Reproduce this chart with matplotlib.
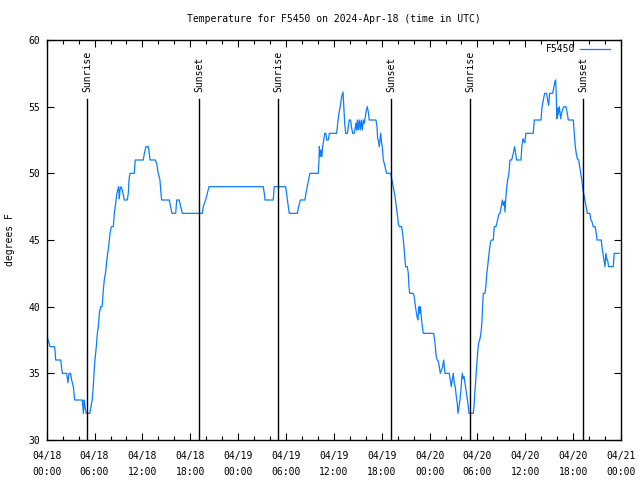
import matplotlib
matplotlib.use('Agg')
import matplotlib.pyplot as plt
import matplotlib.dates as mdates
import matplotlib.transforms as mtransforms
import pandas as pd

# hours since 2024-04-18 00:00 UTC and temperature in F
hours = [0, 0.16, 0.29, 0.41, 1.0, 1.13, 1.75, 1.96, 2.5, 2.67, 2.8, 3.0, 3.13, 3.34, 3.51,
         4.46, 4.55, 4.6, 4.7, 4.8, 4.95, 5.4, 5.55, 5.7, 5.84, 5.93, 6.05, 6.22, 6.35, 6.47,
         6.6, 6.77, 6.95, 7.1, 7.22, 7.39, 7.52, 7.65, 7.81, 7.94, 8.1, 8.35, 8.48, 8.65, 8.77,
         8.9, 9.02, 9.1, 9.19, 9.31, 9.48, 9.6, 9.73, 10.1, 10.23, 10.32, 10.44, 10.98, 11.1,
         12.11, 12.24, 12.45, 12.74, 12.86, 12.95, 13.61, 13.79, 13.95, 14.2, 14.33, 14.41,
         15.37, 15.54, 15.7, 16.17, 16.3, 16.62, 16.8, 17.0, 19.5, 19.63, 19.93, 20.18, 20.35,
         27.15, 27.28, 27.37, 28.4, 28.53, 29.96, 30.12, 30.29, 30.41, 31.42, 31.63, 31.8,
         32.38, 32.5, 32.67, 32.84, 33.0, 34.05, 34.14, 34.18, 34.3, 34.4, 34.5, 34.6, 34.76,
         34.85, 35.0, 35.1, 35.3, 35.43, 36.35, 36.48, 36.64, 36.8, 36.98, 37.1, 37.15, 37.23,
         37.36, 37.48, 37.7, 37.81, 37.93, 38.1, 38.2, 38.36, 38.55, 38.69, 38.77, 38.85,
         38.94, 39.05, 39.19, 39.3, 39.44, 39.57, 39.69, 39.82, 39.94, 40.07, 40.19, 40.32,
         40.44, 41.28, 41.41, 41.49, 41.57, 41.7, 41.78, 41.87, 42.0, 42.07, 42.2, 42.32,
         42.45, 42.62, 43.12, 43.25, 43.45, 43.66, 43.87, 44.0, 44.08, 44.2, 44.5, 44.67,
         44.79, 44.92, 45.0, 45.2, 45.33, 45.42, 45.5, 45.96, 46.08, 46.17, 46.3, 46.42,
         46.55, 46.67, 46.75, 46.84, 46.96, 47.09, 47.21, 48.51, 48.64, 48.72, 48.84, 48.97,
         49.1, 49.22, 49.34, 49.5, 49.64, 49.77, 49.85, 49.93, 50.47, 50.59, 50.72, 50.85,
         50.97, 51.1, 51.22, 51.35, 51.47, 51.56, 51.69, 51.81, 51.93, 52.02, 52.1, 52.22,
         52.32, 52.44, 52.56, 52.69, 52.81, 52.94, 53.48, 53.57, 53.65, 53.78, 53.9, 54.03,
         54.15, 54.32, 54.44, 54.57, 54.65, 54.74, 54.95, 55.07, 55.16, 55.28, 55.41, 55.53,
         55.66, 55.78, 55.99, 56.11, 56.32, 56.49, 56.66, 56.83, 56.99, 57.12, 57.24, 57.37,
         57.45, 57.54, 57.66, 57.79, 57.95, 58.08, 58.29, 58.5, 58.66, 58.79, 58.92, 59.46,
         59.58, 59.71, 59.83, 59.95, 60.08, 61.0, 61.13, 61.97, 62.09, 62.26, 62.43, 62.68,
         62.8, 62.93, 63.05, 63.43, 63.6, 63.72, 63.8, 63.88, 63.96, 64.05, 64.13, 64.26,
         64.35, 64.43, 64.55, 64.68, 64.81, 65.1, 65.27, 65.39, 66.02, 66.14, 66.27, 66.39,
         66.52, 66.69, 66.85, 66.98, 67.11, 67.24, 67.48, 67.6, 67.77, 68.1, 68.23, 68.35,
         68.52, 68.75, 68.9, 68.99, 69.52, 69.61, 69.74, 69.86, 69.99, 70.11, 70.24, 70.32,
         70.45, 71.03, 71.15, 71.78]
temps = [38, 37.5, 37.3, 37, 37, 36, 36, 35, 35, 34.3, 35, 35, 34.5, 34, 33,
         33, 32.4, 32, 33, 32.5, 32, 32, 32.5, 33, 34, 35, 36, 37, 38, 38.5,
         39.5, 40, 40, 41.25, 42, 42.6, 43.4, 44, 44.75, 45.5, 46, 46, 47, 47.75, 48.4,
         48.75, 49, 48.1, 48.75, 49, 48.75, 48.4, 48, 48, 48.5, 49.5, 50, 50, 51,
         51, 51.5, 52, 52, 51.5, 51, 51, 50.75, 50.1, 49.5, 48.5, 48,
         48, 47.5, 47, 47, 48, 48, 47.5, 47, 47, 47.5, 48, 48.6, 49,
         49, 48.5, 48, 48, 49, 49, 48.25, 47.5, 47, 47, 47.6, 48,
         48, 48.5, 49, 49.5, 50, 50, 51, 52, 51.25, 51.75, 51.25, 52, 52.6,
         53, 53, 52.5, 52.5, 53, 53, 53.75, 54.5, 55, 55.75, 56, 56.1, 55.25,
         53.75, 53, 53, 53.5, 54, 54, 53.5, 53, 53, 53.5, 53.75, 53.25,
         54, 53.25, 54, 53.25, 54, 53.25, 54, 53.75, 54.25, 54.75, 55, 54.6,
         54, 54, 53.5, 52.6, 52.5, 52, 52.5, 53, 52.25, 52, 51, 50.75,
         50.4, 50, 50, 49.6, 49, 48.3, 47.3, 46.75, 46.25, 46, 46, 45.25,
         44.5, 43.5, 43, 43, 42.5, 41.5, 41, 41, 40.75, 40.25, 39.75, 39.25,
         39, 40, 39.5, 40, 39.25, 38.5, 38, 38, 37.5, 37, 36.25, 36,
         35.9, 35.5, 35, 35.25, 35.5, 36, 35.5, 35, 35, 34.5, 34, 34.5,
         35, 34.25, 34, 33.25, 32.75, 32, 32.5, 33, 33.75, 34.5, 35, 34.6,
         34.75, 34.25, 33.75, 33.25, 32.75, 32, 32, 32.5, 33.4, 34.4, 35.5, 36.6,
         37.25, 37.6, 38, 38.9, 40.1, 41, 41, 41.6, 42.4, 43, 43.75, 44.4,
         44.9, 45, 45, 46, 46, 46.4, 46.9, 47, 47.5, 48, 47.6, 47.9,
         47.1, 48, 48.9, 49.5, 50, 51, 51, 51.5, 52, 51.5, 51, 51,
         52.1, 52.6, 52.4, 52.3, 53, 53, 54, 54, 54.9, 55.5, 56, 56,
         55.5, 55.1, 56, 56, 56.5, 56.9, 57, 56, 54.1, 54.9, 54.4, 55,
         54.6, 54.1, 54.5, 54.75, 55, 55, 54.5, 54, 54, 53, 52, 51.5,
         51.1, 51, 50.4, 49.9, 49.4, 48.75, 48, 47.6, 47, 47, 46.5, 46.4,
         46, 46, 45.5, 45, 45, 44.5, 44, 43.5, 43, 44, 43.5, 43.5,
         43, 43, 44, 44]

sunrise = [5.09, 29.03, 53.1]
sunset = [19.08, 43.2, 67.27]

plt.rcParams['font.family'] = ['DejaVu Sans Mono']
plt.rcParams['font.size'] = 7

start = pd.Timestamp('2024-04-18 00:00')
t = start + pd.to_timedelta(hours, unit='h')

fig = plt.figure(figsize=(6.4, 4.8), dpi=100)
ax = fig.add_axes([46.7/640, 40/480, 574.3/640, 400/480])

ax.plot(t, temps, color='#0a7dff', lw=0.9, label='F5450')

trans = mtransforms.blended_transform_factory(ax.transData, ax.transAxes)
for name, lst in (('Sunrise', sunrise), ('Sunset', sunset)):
    for h in lst:
        x = start + pd.Timedelta(hours=h)
        ax.axvline(x, ymin=0, ymax=0.8525, color='black', lw=1.0)
        ax.text(x, 0.87, name, transform=trans, rotation=90,
                ha='center', va='bottom', fontsize=7)

ax.set_xlim(start, start + pd.Timedelta(hours=72))
ax.set_ylim(30, 60)
ax.set_yticks(range(30, 61, 5))
ax.xaxis.set_major_locator(mdates.HourLocator(byhour=[0, 6, 12, 18]))
ax.xaxis.set_minor_locator(mdates.HourLocator(byhour=range(0, 24, 2)))
ax.xaxis.set_major_formatter(mdates.DateFormatter('%m/%d\n%H:%M'))
ax.tick_params(which='both', direction='in', top=True, right=True, labelsize=7)
ax.tick_params(which='major', length=5, width=0.8)
ax.tick_params(which='minor', length=3, width=0.8)
ax.tick_params(axis='x', pad=8)
ax.tick_params(axis='y', pad=5)
for lab in ax.get_xticklabels():
    lab.set_linespacing(1.75)
for s in ax.spines.values():
    s.set_linewidth(1.0)

ax.legend(loc='upper right', bbox_to_anchor=(0.981, 0.99), markerfirst=False,
          frameon=False, borderaxespad=0, borderpad=0, handlelength=3.1,
          handletextpad=0.5, fontsize=7)

fig.text(334/640, 1 - 19/480, 'Temperature for F5450 on 2024-Apr-18 (time in UTC)',
         ha='center', va='center', fontsize=7)
fig.text(10/640, 240/480, 'degrees F', rotation=90, ha='center', va='center', fontsize=7)

fig.savefig('out.png', dpi=100)
